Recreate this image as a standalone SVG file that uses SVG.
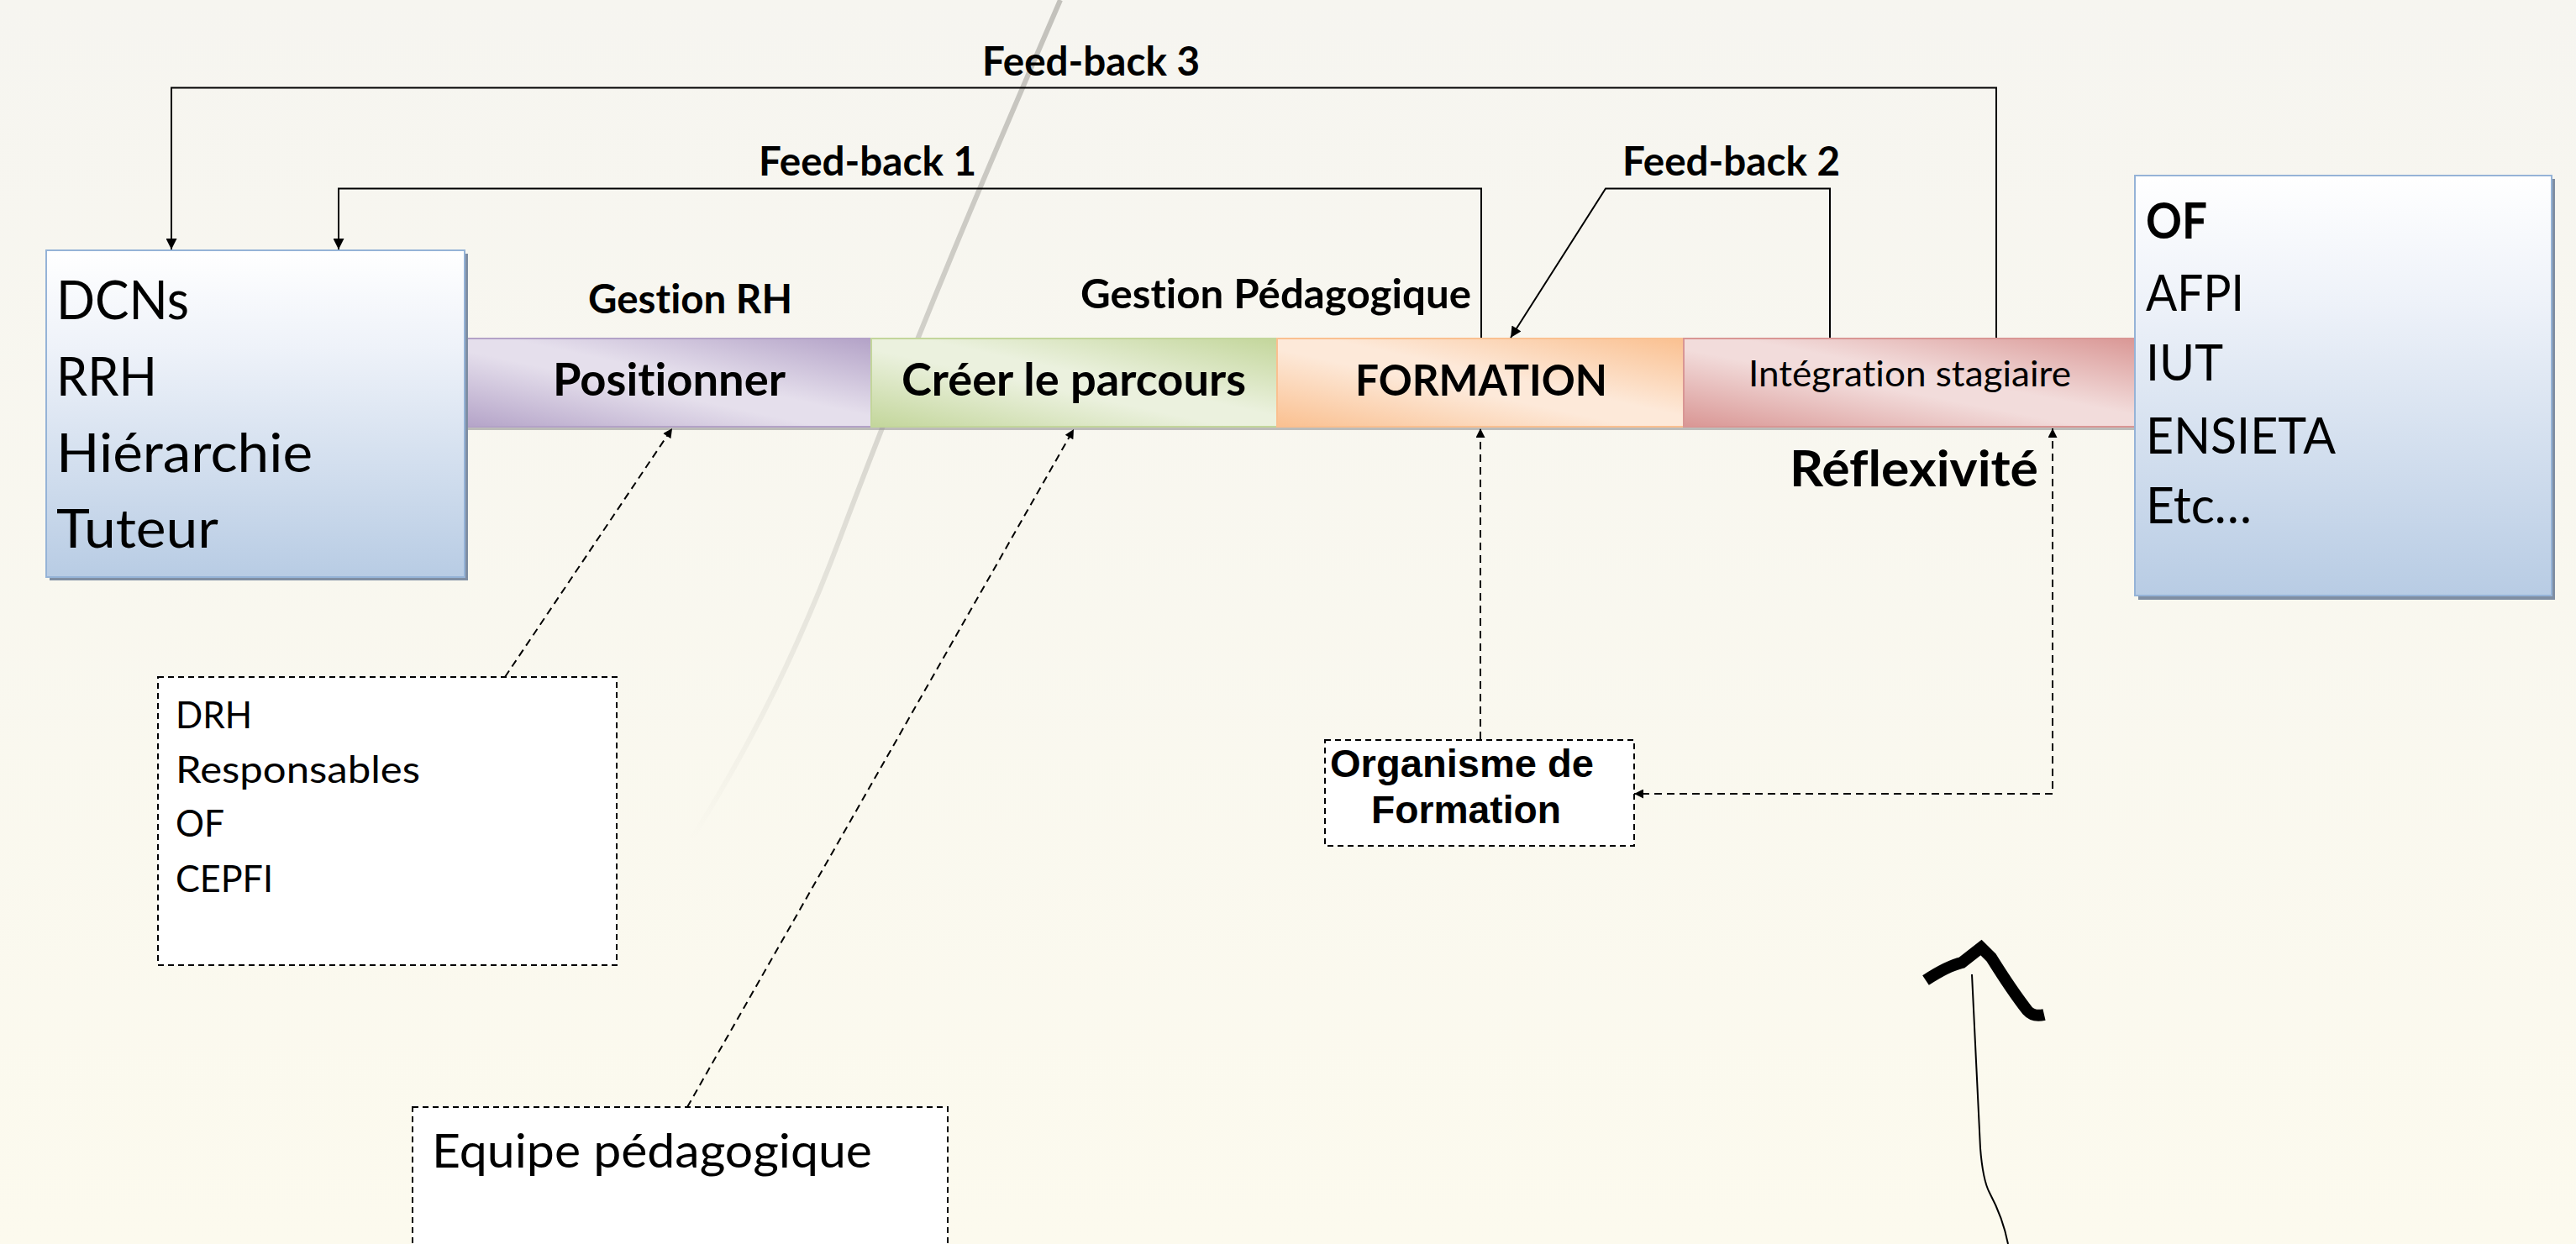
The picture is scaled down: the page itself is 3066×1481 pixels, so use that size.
<svg xmlns="http://www.w3.org/2000/svg" width="3066" height="1481" viewBox="0 0 3066 1481">
<style>
text{font-variant-ligatures:none;font-feature-settings:"liga" 0,"dlig" 0}
.b{font-family:Lato,"Liberation Sans",sans-serif;font-weight:700;fill:#000}
.r{font-family:Lato,"Liberation Sans",sans-serif;font-weight:400;fill:#000}
.a{font-family:"Liberation Sans",Arial,sans-serif;font-weight:700;fill:#000}
.solid{fill:none;stroke:#000;stroke-width:2}
.dash{fill:none;stroke:#000;stroke-width:2;stroke-dasharray:9 6}
.dbox{fill:#fff;stroke:#000;stroke-width:2;stroke-dasharray:7 5}
.seg{stroke-width:2}
</style>
<defs>
<linearGradient id="bg" x1="0" y1="0" x2="0" y2="1">
<stop offset="0" stop-color="#f6f5f0"/><stop offset="1" stop-color="#fcfaee"/>
</linearGradient>
<linearGradient id="streak" gradientUnits="userSpaceOnUse" x1="0" y1="0" x2="0" y2="1000">
<stop offset="0" stop-color="#8f8d87" stop-opacity="0.5"/><stop offset="0.45" stop-color="#8f8d87" stop-opacity="0.35"/><stop offset="1" stop-color="#8f8d87" stop-opacity="0"/>
</linearGradient>
<linearGradient id="blue" x1="0" y1="0" x2="0" y2="1">
<stop offset="0" stop-color="#ffffff"/><stop offset="0.3" stop-color="#eef2f9"/><stop offset="1" stop-color="#b8cce4"/>
</linearGradient>
<linearGradient id="gP" x1="1" y1="0" x2="0" y2="1">
<stop offset="0" stop-color="#b3a2c7"/><stop offset="0.44" stop-color="#e5dfec"/><stop offset="0.56" stop-color="#e5dfec"/><stop offset="1" stop-color="#b3a2c7"/>
</linearGradient>
<linearGradient id="gG" x1="1" y1="0" x2="0" y2="1">
<stop offset="0" stop-color="#c3d69b"/><stop offset="0.44" stop-color="#ebf1de"/><stop offset="0.56" stop-color="#ebf1de"/><stop offset="1" stop-color="#c3d69b"/>
</linearGradient>
<linearGradient id="gO" x1="1" y1="0" x2="0" y2="1">
<stop offset="0" stop-color="#fac090"/><stop offset="0.44" stop-color="#fde9d9"/><stop offset="0.56" stop-color="#fde9d9"/><stop offset="1" stop-color="#fac090"/>
</linearGradient>
<linearGradient id="gR" x1="1" y1="0" x2="0" y2="1">
<stop offset="0" stop-color="#d99694"/><stop offset="0.44" stop-color="#f2dcdb"/><stop offset="0.56" stop-color="#f2dcdb"/><stop offset="1" stop-color="#d99694"/>
</linearGradient>
<marker id="arr" viewBox="0 0 10 10" refX="10" refY="5" markerWidth="15" markerHeight="13" markerUnits="userSpaceOnUse" orient="auto-start-reverse">
<path d="M0,0 L10,5 L0,10 z" fill="#000"/>
</marker>
<marker id="arrs" viewBox="0 0 10 10" refX="10" refY="5" markerWidth="13" markerHeight="11" markerUnits="userSpaceOnUse" orient="auto-start-reverse">
<path d="M0,0 L10,5 L0,10 z" fill="#000"/>
</marker>
</defs>

<rect width="3066" height="1481" fill="url(#bg)"/>
<path d="M1262,0 C1180,190 1090,400 1000,640 S820,1000 760,1100" fill="none" stroke="url(#streak)" stroke-width="6"/>

<!-- process bar -->
<g id="bar">
<rect x="545" y="407" width="2000" height="105" fill="#8c8c8c" opacity="0.55"/>
<g id="seg-positionner">
<rect class="seg" x="545" y="403" width="492" height="105" fill="url(#gP)" stroke="#b3a2c7"/>
<text class="b" x="658" y="471" font-size="54" textLength="277" lengthAdjust="spacingAndGlyphs">Positionner</text>
</g>
<g id="seg-creer">
<rect class="seg" x="1037" y="403" width="483" height="105" fill="url(#gG)" stroke="#c3d69b"/>
<text class="b" x="1073" y="471" font-size="54" textLength="410" lengthAdjust="spacingAndGlyphs">Créer le parcours</text>
</g>
<g id="seg-formation">
<rect class="seg" x="1520" y="403" width="484" height="105" fill="url(#gO)" stroke="#fac090"/>
<text class="b" x="1613" y="471" font-size="52" textLength="300" lengthAdjust="spacingAndGlyphs">FORMATION</text>
</g>
<g id="seg-integration">
<rect class="seg" x="2004" y="403" width="545" height="105" fill="url(#gR)" stroke="#d99694"/>
<text class="r" x="2081" y="460" font-size="43" textLength="384" lengthAdjust="spacingAndGlyphs">Intégration stagiaire</text>
</g>
</g>

<!-- left box -->
<g id="acteurs">
<rect x="59" y="302" width="498" height="389" fill="#7f8ea3"/>
<rect x="55" y="298" width="498" height="389" fill="url(#blue)" stroke="#95b3d7" stroke-width="2"/>
<text class="r" x="67" y="380" font-size="64" textLength="158" lengthAdjust="spacingAndGlyphs">DCNs</text>
<text class="r" x="67" y="471" font-size="64" textLength="120" lengthAdjust="spacingAndGlyphs">RRH</text>
<text class="r" x="67" y="562" font-size="64" textLength="305" lengthAdjust="spacingAndGlyphs">Hiérarchie</text>
<text class="r" x="67" y="652" font-size="64" textLength="193" lengthAdjust="spacingAndGlyphs">Tuteur</text>
</g>

<!-- right box -->
<g id="organismes">
<rect x="2545" y="213" width="496" height="501" fill="#7f8ea3"/>
<rect x="2541" y="209" width="496" height="500" fill="url(#blue)" stroke="#95b3d7" stroke-width="2"/>
<text class="b" x="2554" y="284" font-size="60" textLength="73" lengthAdjust="spacingAndGlyphs">OF</text>
<text class="r" x="2554" y="370" font-size="60" textLength="117" lengthAdjust="spacingAndGlyphs">AFPI</text>
<text class="r" x="2554" y="453" font-size="60" textLength="92" lengthAdjust="spacingAndGlyphs">IUT</text>
<text class="r" x="2554" y="540" font-size="60" textLength="226" lengthAdjust="spacingAndGlyphs">ENSIETA</text>
<text class="r" x="2554" y="623" font-size="60" textLength="126" lengthAdjust="spacingAndGlyphs">Etc…</text>
</g>

<!-- labels -->
<g id="labels">
<text class="b" x="700" y="373" font-size="47" textLength="243" lengthAdjust="spacingAndGlyphs">Gestion RH</text>
<text class="b" x="1286" y="367" font-size="47" textLength="465" lengthAdjust="spacingAndGlyphs">Gestion Pédagogique</text>
<text class="b" x="2130" y="579" font-size="60" textLength="296" lengthAdjust="spacingAndGlyphs">Réflexivité</text>
</g>

<!-- dashed boxes -->
<g id="drh">
<rect class="dbox" x="188" y="806" width="546" height="343"/>
<text class="r" x="209" y="867" font-size="44" textLength="91" lengthAdjust="spacingAndGlyphs">DRH</text>
<text class="r" x="209" y="932" font-size="44" textLength="291" lengthAdjust="spacingAndGlyphs">Responsables</text>
<text class="r" x="209" y="996" font-size="44" textLength="58" lengthAdjust="spacingAndGlyphs">OF</text>
<text class="r" x="209" y="1062" font-size="44" textLength="116" lengthAdjust="spacingAndGlyphs">CEPFI</text>
</g>
<g id="equipe">
<rect class="dbox" x="491" y="1318" width="637" height="200"/>
<text class="r" x="514" y="1390" font-size="57" textLength="524" lengthAdjust="spacingAndGlyphs">Equipe pédagogique</text>
</g>
<g id="organisme-formation">
<rect class="dbox" x="1577" y="881" width="368" height="126"/>
<text class="a" x="1583" y="925" font-size="46" textLength="314" lengthAdjust="spacingAndGlyphs">Organisme de</text>
<text class="a" x="1632" y="980" font-size="46" textLength="226" lengthAdjust="spacingAndGlyphs">Formation</text>
</g>

<!-- connectors -->
<g id="connectors">
<path class="solid" d="M2376,402 V104.5 H204 V297" marker-end="url(#arr)"/>
<path class="solid" d="M1763,402 V224.5 H403 V297" marker-end="url(#arr)"/>
<path class="solid" d="M2178,402 V224.5 H1911 L1798,402" marker-end="url(#arr)"/>
<path class="dash" d="M601,806 L800,510" marker-end="url(#arrs)"/>
<path class="dash" d="M818,1318 L1278,511" marker-end="url(#arrs)"/>
<path class="dash" d="M1762,880 V510" marker-end="url(#arrs)"/>
<path class="dash" d="M2443,510 V945 H1945" marker-start="url(#arrs)" marker-end="url(#arrs)"/>
<text class="b" x="1169" y="90" font-size="47" textLength="259" lengthAdjust="spacingAndGlyphs">Feed-back 3</text>
<text class="b" x="903" y="209" font-size="47" textLength="259" lengthAdjust="spacingAndGlyphs">Feed-back 1</text>
<text class="b" x="1931" y="209" font-size="47" textLength="259" lengthAdjust="spacingAndGlyphs">Feed-back 2</text>
</g>

<!-- hand-drawn mark -->
<g id="hand-mark">
<path d="M2292,1167 Q2318,1150 2335,1146 L2358,1128 L2370,1140 Q2395,1180 2413,1203 Q2420,1211 2433,1208" fill="none" stroke="#000" stroke-width="14" stroke-linejoin="miter"/>
<path d="M2347,1160 L2357,1367 Q2360,1405 2368,1420 Q2384,1450 2390,1481" fill="none" stroke="#000" stroke-width="2"/>
</g>
</svg>
